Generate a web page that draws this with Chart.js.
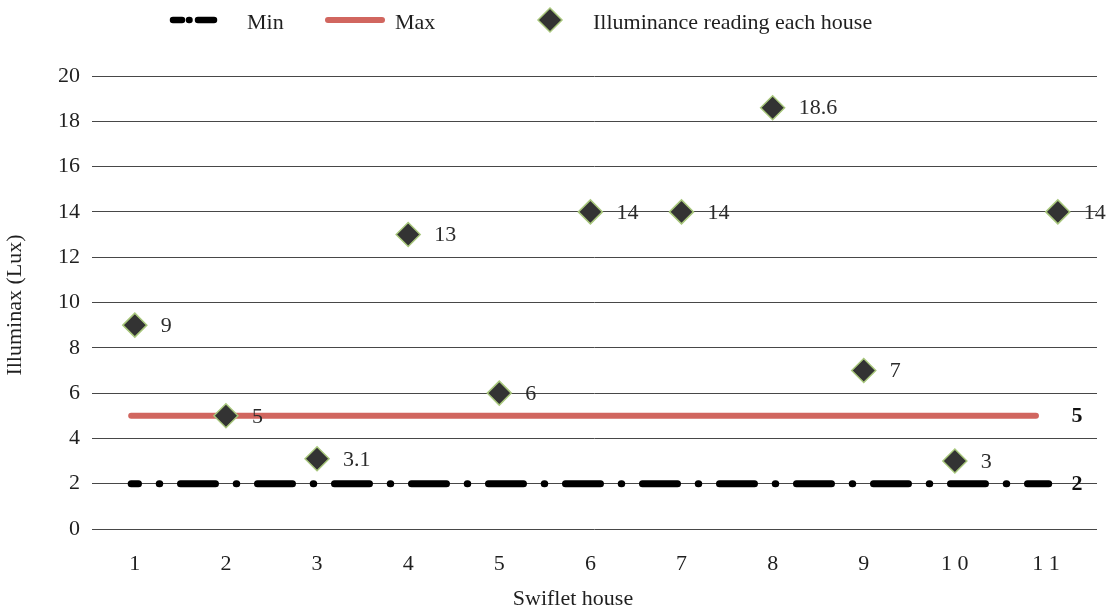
<!DOCTYPE html>
<html>
<head>
<meta charset="utf-8">
<script src="https://cdn.jsdelivr.net/npm/chart.js@4"></script>
<style>
  html, body { margin: 0; padding: 0; background: #ffffff; }
  #wrap { width: 1115px; height: 611px; }
</style>
</head>
<body>
<div id="wrap"><canvas id="c" width="1115" height="611"></canvas></div>
<script>
// Swiflet house illuminance readings against the recommended min / max levels
const houses = ['1', '2', '3', '4', '5', '6', '7', '8', '9', '1 0', '1 1'];
const housePosition = [1, 2, 3, 4, 5, 6, 7, 8, 9, 10, 11.13];
const illuminance = [9, 5, 3.1, 13, 6, 14, 14, 18.6, 7, 3, 14];
const minLevel = 2;
const maxLevel = 5;
const minSpan = [0.96, 11.03];
const maxSpan = [0.96, 10.89];
const yTicks = [0, 2, 4, 6, 8, 10, 12, 14, 16, 18, 20];

const FONT = '"Liberation Serif", "Times New Roman", serif';
const FS = 22;
const TEXT = '#1f1f1f';
const RED = '#d1665f';
const GREEN = '#a8c77c';
const DARK = '#333333';

const seriesLabels = ['Min', 'Max', 'Illuminance reading each house'];

// value labels beside each reading, bold level labels at the right, axis titles, legend
const annotate = {
  id: 'annotate',
  afterDatasetsDraw(chart) {
    const ctx = chart.ctx;
    const area = chart.chartArea;
    const y = chart.scales.y;
    ctx.save();
    ctx.font = FS + 'px ' + FONT;
    ctx.fillStyle = '#2b2b2b';
    ctx.textAlign = 'left';
    ctx.textBaseline = 'middle';
    const meta = chart.getDatasetMeta(0);
    meta.data.forEach((el, i) => {
      ctx.fillText(String(illuminance[i]), el.x + 26, el.y + 1);
    });
    ctx.font = 'bold ' + FS + 'px ' + FONT;
    ctx.fillStyle = '#111';
    ctx.textAlign = 'center';
    ctx.fillText(String(maxLevel), area.right - 20, y.getPixelForValue(maxLevel) + 1);
    ctx.fillText(String(minLevel), area.right - 20, y.getPixelForValue(minLevel) + 1);
    ctx.restore();
  },
  afterDraw(chart) {
    const ctx = chart.ctx;
    ctx.save();
    ctx.font = FS + 'px ' + FONT;
    ctx.fillStyle = TEXT;
    ctx.textBaseline = 'middle';
    // axis titles
    ctx.textAlign = 'center';
    ctx.fillText('Swiflet house', 573, 599);
    ctx.translate(15, 305);
    ctx.rotate(-Math.PI / 2);
    ctx.fillText('Illuminax (Lux)', 0, 0);
    ctx.setTransform(1, 0, 0, 1, 0, 0);

    // legend
    const ly = 20;
    ctx.lineCap = 'round';
    ctx.strokeStyle = '#000';
    ctx.lineWidth = 6.5;
    ctx.setLineDash([9, 7, 0.5, 8.5, 16]);
    ctx.beginPath();
    ctx.moveTo(173, ly);
    ctx.lineTo(214, ly);
    ctx.stroke();
    ctx.setLineDash([]);
    ctx.strokeStyle = RED;
    ctx.lineWidth = 6;
    ctx.beginPath();
    ctx.moveTo(328, ly);
    ctx.lineTo(382, ly);
    ctx.stroke();
    // diamond marker
    ctx.fillStyle = DARK;
    ctx.strokeStyle = GREEN;
    ctx.lineWidth = 1.5;
    ctx.beginPath();
    ctx.moveTo(550, ly - 12);
    ctx.lineTo(562, ly);
    ctx.lineTo(550, ly + 12);
    ctx.lineTo(538, ly);
    ctx.closePath();
    ctx.fill();
    ctx.stroke();

    ctx.fillStyle = TEXT;
    ctx.textAlign = 'left';
    ctx.fillText(seriesLabels[0], 247, 23);
    ctx.fillText(seriesLabels[1], 395, 23);
    ctx.fillText(seriesLabels[2], 593, 23);
    ctx.restore();
  }
};

new Chart(document.getElementById('c'), {
  data: {
    datasets: [
      {
        type: 'scatter',
        label: seriesLabels[2],
        data: housePosition.map((x, i) => ({ x: x, y: illuminance[i] })),
        pointStyle: 'rectRot',
        pointRadius: 12,
        pointHoverRadius: 12,
        backgroundColor: DARK,
        borderColor: GREEN,
        borderWidth: 1.5,
        order: 0
      },
      {
        type: 'line',
        label: seriesLabels[1],
        data: maxSpan.map(x => ({ x: x, y: maxLevel })),
        borderColor: RED,
        borderWidth: 6,
        borderCapStyle: 'round',
        pointRadius: 0,
        fill: false,
        order: 1
      },
      {
        type: 'line',
        label: seriesLabels[0],
        data: minSpan.map(x => ({ x: x, y: minLevel })),
        borderColor: '#000000',
        borderWidth: 7,
        borderCapStyle: 'round',
        borderDash: [35, 20.75, 0.5, 20.75],
        borderDashOffset: 27.7,
        pointRadius: 0,
        fill: false,
        order: 2
      }
    ]
  },
  options: {
    responsive: false,
    devicePixelRatio: 1,
    animation: false,
    layout: { padding: { top: 76, right: 18, left: 0, bottom: 0 } },
    plugins: {
      legend: { display: false },
      tooltip: { enabled: false }
    },
    scales: {
      x: {
        type: 'linear',
        min: 0.53,
        max: 11.56,
        afterFit(scale) { scale.height = 82; },
        afterBuildTicks(scale) {
          scale.ticks = houses.map((_, i) => ({ value: i + 1 }));
        },
        ticks: {
          autoSkip: false,
          maxRotation: 0,
          padding: 22,
          color: TEXT,
          font: { family: FONT, size: FS },
          callback: (v) => houses[v - 1]
        },
        grid: { display: false, drawTicks: false },
        border: { display: false }
      },
      y: {
        min: 0,
        max: 20,
        afterFit(scale) { scale.width = 92; },
        afterBuildTicks(scale) {
          scale.ticks = yTicks.map(v => ({ value: v }));
        },
        ticks: {
          padding: 12,
          color: TEXT,
          font: { family: FONT, size: FS }
        },
        grid: { color: '#474747', lineWidth: 1, drawTicks: false },
        border: { display: false }
      }
    }
  },
  plugins: [annotate]
});
</script>
</body>
</html>
